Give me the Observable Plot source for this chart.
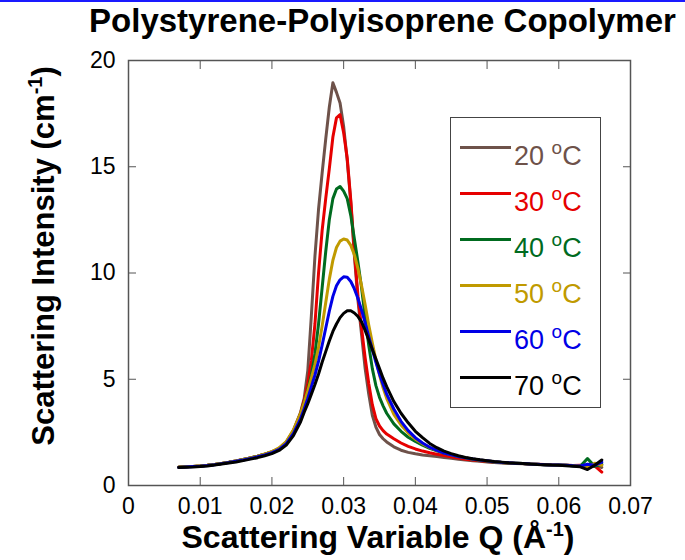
<!DOCTYPE html>
<html><head><meta charset="utf-8">
<script src="https://cdn.jsdelivr.net/npm/d3@7"></script>
<script src="https://cdn.jsdelivr.net/npm/@observablehq/plot@0.6"></script>
<style>
body{margin:0;background:#fff;font-family:"Liberation Sans",Arial,sans-serif;color:#000;}
#wrap{position:relative;width:685px;height:560px;overflow:hidden;background:#fff;}
#topbar{position:absolute;left:0;top:0;width:685px;height:2px;background:#1a1aff;}
#title{position:absolute;left:0;width:765px;top:3px;line-height:36px;text-align:center;font-weight:bold;font-size:33px;white-space:nowrap;}
#xlabel{position:absolute;left:0;width:756px;top:519px;line-height:36px;text-align:center;font-weight:bold;font-size:32px;white-space:nowrap;}
#ylabel{position:absolute;left:45px;top:256px;transform:translate(-50%,-50%) rotate(-90deg);font-weight:bold;font-size:31px;white-space:nowrap;line-height:36px;}
.sup{font-size:20px;position:relative;top:-12px;}
#legend{position:absolute;left:450px;top:117px;width:151px;height:291px;border:1.5px solid #444;box-sizing:border-box;background:#fff;}
.lline{position:absolute;left:9px;width:51px;height:3px;}
.ltext{position:absolute;left:63px;font-size:27px;line-height:27px;white-space:nowrap;}
.lsup{font-size:19px;position:relative;top:-11px;}
#plot{position:absolute;left:0;top:0;}
</style>
</head><body>
<div id="wrap">
<div id="plot"></div>
<div id="topbar"></div>
<div id="title">Polystyrene-Polyisoprene Copolymer</div>
<div id="ylabel">Scattering Intensity (cm<span class="sup">-1</span>)</div>
<div id="xlabel">Scattering Variable Q (Å<span class="sup">-1</span>)</div>
<div id="legend"></div>
</div>
<script>
const q = [0.007,0.008,0.009,0.010,0.011,0.012,0.013,0.014,0.015,0.016,0.017,0.018,0.019,0.020,0.021,0.022,0.023,0.024,
  0.0245,0.025,0.0255,0.026,0.0265,0.027,0.0275,0.028,0.0285,0.029,0.0295,0.030,0.0305,0.031,0.0315,0.032,0.0325,0.033,0.0335,0.034,0.0345,0.035,0.0355,0.036,
  0.037,0.038,0.039,0.040,0.041,0.042,0.043,0.044,0.045,0.046,0.047,0.048,0.049,0.050,0.051,0.052,0.053,0.054,0.055,0.056,0.057,0.058,0.059,0.060,0.061,0.062,0.063,0.064,0.065,0.066];

const I20 = [0.87,0.88,0.89,0.92,0.95,0.99,1.04,1.09,1.15,1.22,1.30,1.38,1.47,1.58,1.75,2.05,2.6,3.45,
  4.1,5.4,8.0,10.8,13.0,14.7,16.3,17.8,18.95,18.5,18.0,16.9,15.3,13.3,10.8,8.7,7.1,5.5,4.3,3.3,2.75,2.4,2.2,2.05,
  1.82,1.66,1.56,1.49,1.44,1.40,1.36,1.32,1.28,1.24,1.20,1.17,1.14,1.11,1.08,1.06,1.05,1.03,1.02,1.00,0.99,0.98,0.97,0.96,0.95,0.94,0.93,0.90,0.95,0.85];
const I30 = [0.86,0.88,0.90,0.92,0.95,0.99,1.04,1.09,1.15,1.22,1.30,1.38,1.47,1.58,1.74,2.02,2.55,3.4,
  4.0,4.8,5.9,7.6,10.0,12.0,13.5,14.9,16.4,17.3,17.45,16.6,15.4,13.4,11.0,8.9,7.4,6.0,4.8,3.8,3.15,2.8,2.58,2.42,
  2.2,2.0,1.84,1.72,1.62,1.54,1.47,1.41,1.35,1.29,1.24,1.20,1.16,1.13,1.10,1.08,1.06,1.04,1.03,1.01,1.00,0.99,0.98,0.96,0.95,0.94,0.95,0.85,0.92,0.63];
const I40 = [0.86,0.88,0.90,0.92,0.95,0.99,1.04,1.09,1.15,1.22,1.30,1.38,1.47,1.58,1.74,2.02,2.55,3.35,
  3.9,4.5,5.2,6.2,7.6,9.3,11.0,12.5,13.5,13.95,14.07,13.85,13.5,12.7,11.6,10.5,9.3,7.9,6.6,5.5,4.7,4.15,3.75,3.4,
  2.9,2.55,2.27,2.07,1.9,1.75,1.63,1.53,1.44,1.36,1.30,1.24,1.19,1.15,1.11,1.08,1.06,1.05,1.03,1.01,1.00,0.98,0.97,0.96,0.95,0.93,0.90,1.27,0.90,1.0];
const I50 = [0.86,0.88,0.90,0.92,0.95,0.99,1.04,1.09,1.15,1.22,1.30,1.38,1.48,1.60,1.77,2.07,2.62,3.4,
  3.9,4.45,5.05,5.7,6.5,7.5,8.6,9.7,10.6,11.2,11.5,11.6,11.55,11.3,10.85,10.2,9.4,8.5,7.55,6.7,5.9,5.2,4.6,4.1,
  3.35,2.85,2.47,2.18,1.96,1.79,1.65,1.54,1.45,1.37,1.31,1.25,1.20,1.16,1.12,1.09,1.07,1.05,1.03,1.01,1.00,0.98,0.97,0.96,0.95,0.93,0.92,0.86,1.05,0.95];
const I60 = [0.85,0.87,0.89,0.91,0.94,0.98,1.03,1.08,1.14,1.20,1.27,1.35,1.44,1.55,1.70,1.97,2.45,3.15,
  3.6,4.1,4.65,5.2,5.85,6.6,7.4,8.2,8.9,9.4,9.68,9.82,9.8,9.6,9.25,8.8,8.25,7.65,7.0,6.4,5.8,5.25,4.75,4.3,
  3.6,3.02,2.58,2.25,2.0,1.8,1.65,1.53,1.44,1.36,1.30,1.25,1.20,1.16,1.12,1.09,1.07,1.05,1.03,1.01,1.00,0.98,0.97,0.96,0.95,0.93,0.92,1.0,0.95,1.1];
const I70 = [0.85,0.86,0.87,0.89,0.92,0.96,1.01,1.06,1.11,1.17,1.24,1.31,1.40,1.50,1.65,1.9,2.35,3.0,
  3.45,3.85,4.3,4.75,5.25,5.8,6.3,6.8,7.25,7.6,7.9,8.1,8.22,8.22,8.12,7.95,7.7,7.3,6.85,6.4,5.95,5.5,5.05,4.65,
  3.95,3.4,2.95,2.55,2.25,1.98,1.78,1.62,1.5,1.4,1.32,1.26,1.21,1.17,1.13,1.10,1.07,1.05,1.03,1.01,0.99,0.98,0.96,0.95,0.93,0.91,0.88,0.75,0.95,1.2];

const temps = ["20","30","40","50","60","70"];
const colors = ["#6e524a","#e60000","#006b1f","#c09a00","#0000e6","#000000"];
const xTicks = [0,0.01,0.02,0.03,0.04,0.05,0.06,0.07];
const yTicks = [0,5,10,15,20];

const series = [I20,I30,I40,I50,I60,I70];
const rows = series.flatMap((s,k) => s.map((v,i) => ({q:q[i], I:v, T:temps[k]})));

const fmtX = d => d === 0 ? "0" : d3.format(".2f")(d);

const chart = Plot.plot({
  width: 685, height: 560,
  marginTop: 60, marginBottom: 75, marginLeft: 128, marginRight: 55,
  style: {fontFamily: "'Liberation Sans', Arial, sans-serif", fontSize: "23px", color: "#000", background: "transparent", overflow: "visible"},
  x: {domain: [0, 0.07]},
  y: {domain: [0, 20]},
  color: {domain: temps, range: colors},
  marks: [
    Plot.line(rows, {x: "q", y: "I", stroke: "T", strokeWidth: 3, strokeLinejoin: "round"}),
    Plot.frame({stroke: "#555", strokeWidth: 1.5}),
    Plot.axisX({anchor: "bottom", ticks: xTicks, tickSize: -8, tickPadding: 20, tickFormat: fmtX, label: null, stroke: "#555", fill: "#000"}),
    Plot.axisX({anchor: "top", ticks: xTicks, tickSize: -8, tickFormat: () => "", label: null, stroke: "#555"}),
    Plot.axisY({anchor: "left", ticks: yTicks, tickSize: -8, tickPadding: 21, label: null, stroke: "#555", fill: "#000"}),
    Plot.axisY({anchor: "right", ticks: yTicks, tickSize: -8, tickFormat: () => "", label: null, stroke: "#555"})
  ]
});
document.getElementById("plot").appendChild(chart);

// legend built from the same arrays
const leg = document.getElementById("legend");
const rowY0 = 29.5, rowStep = 46;
temps.forEach((t, k) => {
  const y = rowY0 + k * rowStep;
  const ln = document.createElement("div");
  ln.className = "lline";
  ln.style.top = (y - 1.5) + "px";
  ln.style.background = colors[k];
  leg.appendChild(ln);
  const tx = document.createElement("div");
  tx.className = "ltext";
  tx.style.top = (y - 5) + "px";
  tx.style.color = colors[k];
  tx.innerHTML = t + " <span class=\"lsup\">o</span>C";
  leg.appendChild(tx);
});
</script>
</body></html>
